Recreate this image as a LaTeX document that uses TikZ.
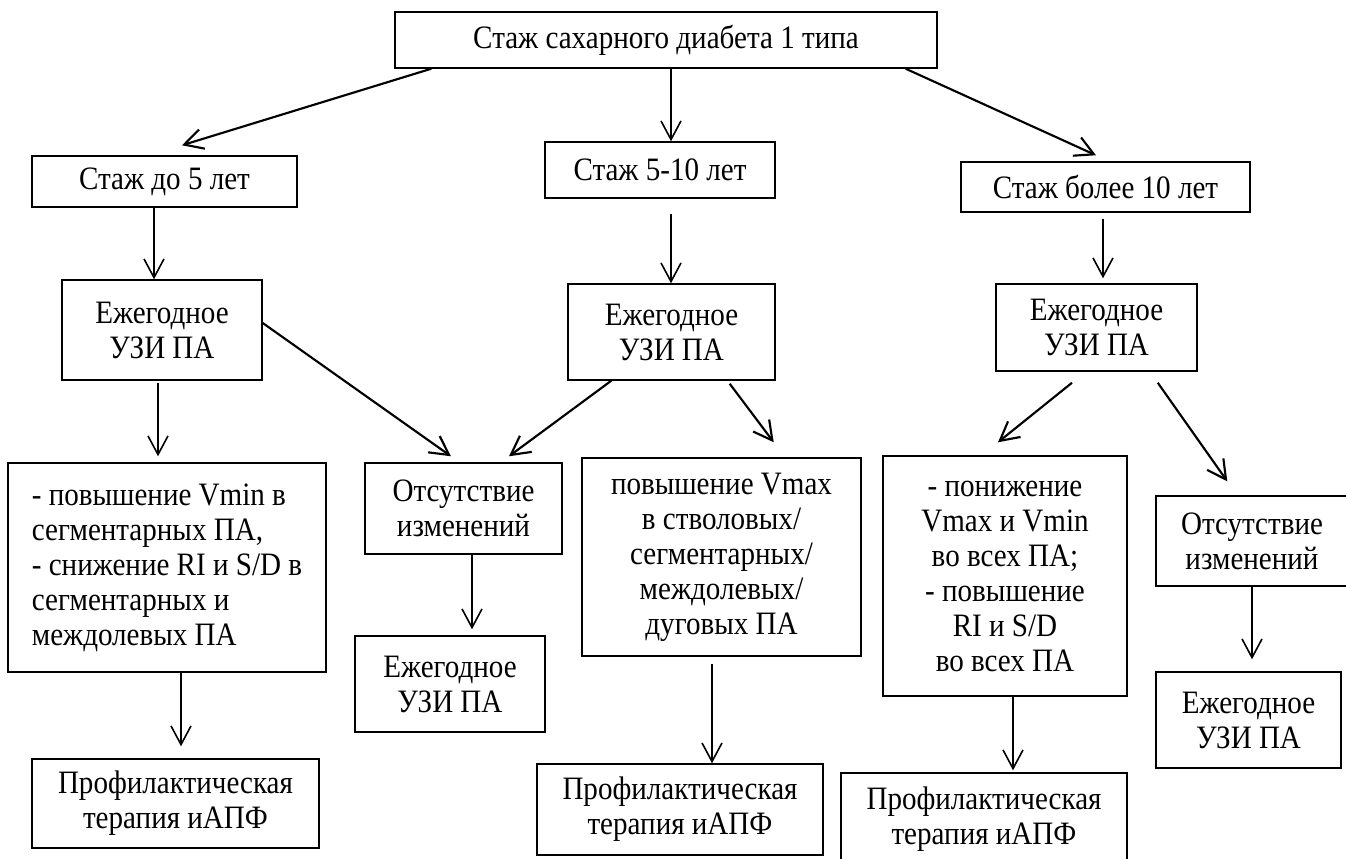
\documentclass[tikz,border=0pt]{standalone}
\usepackage{fontspec}
\setmainfont{Liberation Serif}[FakeStretch=0.89]
\usetikzlibrary{arrows.meta,calc}
\begin{document}
\begin{tikzpicture}[x=0.75pt,y=-0.75pt,
  box/.style={draw=black, line width=1.1pt, inner sep=0pt, align=center,
    font=\fontsize{24.5}{26.25}\selectfont},
  wh/.style 2 args={minimum width=#1*0.75pt, minimum height=#2*0.75pt},
  arr/.style={line width=1.2pt, -{Straight Barb[length=14pt,width=15pt,line width=1.2pt]}},
  arrb/.style={line width=1.6pt, -{Straight Barb[length=14pt,width=15pt,line width=1.6pt]}}]
\useasboundingbox (0,0) rectangle (1346,858);
\fill[white] (0,0) rectangle (1346,858);

\node[box, wh={542}{56}] (top) at (666,40) {Стаж сахарного диабета 1 типа};
\node[box, wh={265}{51}] (s5) at (164.5,181.5) {Стаж до 5 лет};
\node[box, wh={230}{56}] (s510) at (660,170) {Стаж 5-10 лет};
\node[box, wh={289}{50}] (s10) at (1105.5,187) {Стаж более 10 лет};

\node[box, wh={200}{100}] (e1) at (162,330) {Ежегодное\\УЗИ ПА};
\node[box, wh={207}{96}] (e2) at (671.5,332) {Ежегодное\\УЗИ ПА};
\node[box, wh={201}{87}] (e3) at (1096.5,327.5) {Ежегодное\\УЗИ ПА};

\node[box, wh={318}{209}, align=left] (vmin) at (167,567.5) {- повышение Vmin в\\сегментарных ПА,\\- снижение RI и S/D в\\сегментарных и\\междолевых ПА};
\node[box, wh={197}{91}] (ots1) at (463.5,508.5) {Отсутствие\\изменений};
\node[box, wh={279}{198}] (vmax) at (721.5,557) {повышение Vmax\\в стволовых/\\сегментарных/\\междолевых/\\дуговых ПА};
\node[box, wh={244}{240}] (pon) at (1005,576) {- понижение\\Vmax и Vmin\\во всех ПА;\\- повышение\\RI и S/D\\во всех ПА};
\node[box, wh={192}{90}] (ots2) at (1252,541) {Отсутствие\\изменений};

\node[box, wh={190}{96}] (e4) at (450,684) {Ежегодное\\УЗИ ПА};
\node[box, wh={185}{96}] (e5) at (1248.5,720) {Ежегодное\\УЗИ ПА};

\node[box, wh={287}{89}] (p1) at (175.5,803.5) {Профилактическая\\терапия иАПФ};
\node[box, wh={286}{91}] (p2) at (680,809.5) {Профилактическая\\терапия иАПФ};
\node[box, wh={286}{92}] (p3) at (984,819) {Профилактическая\\терапия иАПФ};

% connectors
\draw[arrb] ($(top.south west)+(37,0)$) -- ($(s5.north)+(17.5,-10)$);
\draw[arr]  ($(top.south)+(5,0)$) -- ($(s510.north)+(11,0)$);
\draw[arrb] ($(top.south east)+(-32,0)$) -- ($(s10.north)+(-9.5,-6)$);

\draw[arr] ($(s5.south)+(-10.5,0)$) -- ($(e1.north)+(-8,0)$);
\draw[arr] ($(s510.south)+(11,15)$) -- ($(e2.north)+(-0.5,0)$);
\draw[arr] ($(s10.south)+(-2.5,6)$) -- ($(e3.north)+(6.5,-5)$);

\draw[arr]  ($(e1.south)+(-4,2)$) -- ($(vmin.north)+(-9,-6)$);
\draw[arrb] ($(e1.east)+(0,-7)$) -- ($(ots1.north)+(-12.5,-6)$);
\draw[arrb] ($(e2.south west)+(44,0)$) -- ($(ots1.north)+(45.5,-6)$);
\draw[arrb] ($(e2.south east)+(-46,3)$) -- ($(vmax.north east)+(-88,-15)$);
\draw[arrb] ($(e3.south)+(-24.5,11)$) -- ($(pon.north)+(-7,-13)$);
\draw[arrb] ($(e3.south east)+(-40,11)$) -- ($(ots2.north west)+(72,-14)$);

\draw[arr] ($(vmin.south)+(14,0)$) -- ($(p1.north)+(5.5,-12)$);
\draw[arr] ($(ots1.south)+(8.5,0)$) -- ($(e4.north)+(22,-6)$);
\draw[arr] ($(vmax.south)+(-9.5,7)$) -- ($(p2.north)+(32,0)$);
\draw[arr] ($(pon.south)+(8,0)$) -- ($(p3.north)+(29,-2)$);
\draw[arr] ($(ots2.south)+(0,0)$) -- ($(e5.north)+(3.5,-12)$);
\end{tikzpicture}
\end{document}
